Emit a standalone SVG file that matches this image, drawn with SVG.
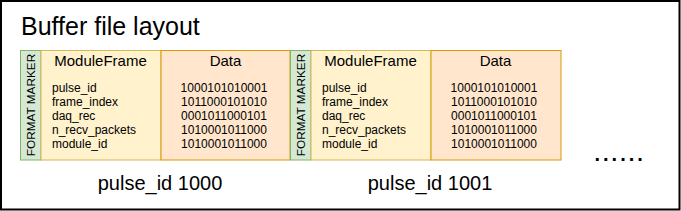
<svg xmlns="http://www.w3.org/2000/svg" width="681" height="211" viewBox="0 0 681 211">
<style>
text{font-family:"Liberation Sans",Arial,sans-serif;fill:#000}
.mk{fill:#d5e8d4;stroke:#82b366;stroke-width:1}
.mf{fill:#fff2cc;stroke:#d6b656;stroke-width:1}
.dt{fill:#ffe6cc;stroke:#d79b00;stroke-width:1}
.hd{font-size:15px;text-anchor:middle}
.fl{font-size:12px}
.vl{font-size:12px;text-anchor:middle}
.mt{font-size:11.8px;text-anchor:middle}
.lb{font-size:20px;text-anchor:middle}
</style>
<rect x="1" y="1" width="678.5" height="208.5" fill="#fff" stroke="#000" stroke-width="2"/>
<text x="21" y="35" style="font-size:25px">Buffer file layout</text>
<g id="frame1">
<g id="marker1">
<rect class="mk" x="20.5" y="50.5" width="20.5" height="109.5"/>
<text class="mt" transform="translate(31,105) rotate(-90)" x="0" y="4">FORMAT MARKER</text>
</g>
<g id="moduleframe1">
<rect class="mf" x="41" y="50.5" width="120" height="109.5"/>
<text class="hd" x="100.5" y="66">ModuleFrame</text>
<text class="fl" x="52" y="92">pulse_id</text>
<text class="fl" x="52" y="106">frame_index</text>
<text class="fl" x="52" y="120">daq_rec</text>
<text class="fl" x="52" y="134">n_recv_packets</text>
<text class="fl" x="52" y="148">module_id</text>
</g>
<g id="data1">
<rect class="dt" x="161" y="50.5" width="129" height="109.5"/>
<text class="hd" x="225.5" y="66">Data</text>
<text class="vl" x="224" y="92">1000101010001</text>
<text class="vl" x="224" y="106">1011000101010</text>
<text class="vl" x="224" y="120">0001011000101</text>
<text class="vl" x="224" y="134">1010001011000</text>
<text class="vl" x="224" y="148">1010001011000</text>
</g>
<text class="lb" x="160" y="190">pulse_id 1000</text>
</g>
<g id="frame2">
<g id="marker2">
<rect class="mk" x="290.5" y="50.5" width="20.5" height="109.5"/>
<text class="mt" transform="translate(301,105) rotate(-90)" x="0" y="4">FORMAT MARKER</text>
</g>
<g id="moduleframe2">
<rect class="mf" x="311" y="50.5" width="120" height="109.5"/>
<text class="hd" x="370.5" y="66">ModuleFrame</text>
<text class="fl" x="322" y="92">pulse_id</text>
<text class="fl" x="322" y="106">frame_index</text>
<text class="fl" x="322" y="120">daq_rec</text>
<text class="fl" x="322" y="134">n_recv_packets</text>
<text class="fl" x="322" y="148">module_id</text>
</g>
<g id="data2">
<rect class="dt" x="431" y="50.5" width="130" height="109.5"/>
<text class="hd" x="495.5" y="66">Data</text>
<text class="vl" x="494" y="92">1000101010001</text>
<text class="vl" x="494" y="106">1011000101010</text>
<text class="vl" x="494" y="120">0001011000101</text>
<text class="vl" x="494" y="134">1010001011000</text>
<text class="vl" x="494" y="148">1010001011000</text>
</g>
<text class="lb" x="430" y="190">pulse_id 1001</text>
</g>
<g id="connectors"/>
<text x="594.5" y="161" style="font-size:20px;font-weight:bold;letter-spacing:3px">......</text>
</svg>
